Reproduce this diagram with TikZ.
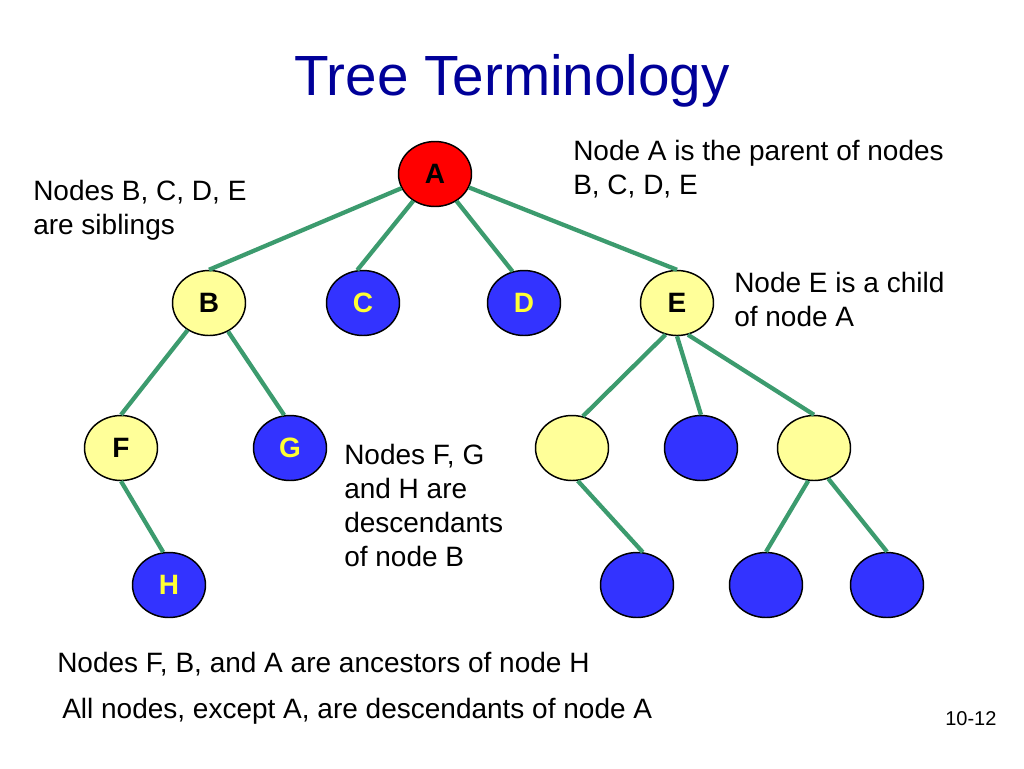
\documentclass[tikz,border=0pt]{standalone}
\usepackage{fontspec}
\setmainfont{Liberation Sans}
\usetikzlibrary{shapes.geometric}
\definecolor{edgegreen}{RGB}{60,155,110}
\definecolor{nodeyellow}{RGB}{255,255,153}
\definecolor{nodeblue}{RGB}{51,51,255}
\definecolor{labelyellow}{RGB}{255,255,51}
\definecolor{titleblue}{RGB}{0,0,153}
\newcommand\mlines[1]{\vtop{\baselineskip=25.5pt\halign{##\hfil\cr#1\crcr}}}
\tikzset{
  tnode/.style={ellipse, draw=black, line width=1.1pt, minimum width=54.75pt, minimum height=48.75pt, inner sep=0pt, font=\fontsize{21}{24}\selectfont\bfseries},
  ynode/.style={tnode, fill=nodeyellow, text=black},
  bnode/.style={tnode, fill=nodeblue, text=labelyellow},
  rnode/.style={tnode, fill=red, text=black},
  edge/.style={draw=edgegreen, line width=3.2pt},
  txt/.style={anchor=base west, inner sep=0pt, font=\fontsize{21}{25.5}\selectfont}
}
\begin{document}
\begin{tikzpicture}[x=0.75pt,y=-0.75pt]
\useasboundingbox (0,0) rectangle (1024,768);
\node[anchor=base, inner sep=0pt, text=titleblue, font=\fontsize{42.5}{48}\selectfont] (title) at (512,95) {Tree Terminology};
% nodes
\node[rnode] (A) at (435,174) {A};
\node[ynode] (B) at (209,303) {B};
\node[bnode] (C) at (363,303) {C};
\node[bnode] (D) at (524,303) {D};
\node[ynode] (E) at (677,303) {E};
\node[ynode] (F) at (121,448) {F};
\node[bnode] (G) at (290,448) {G};
\node[bnode] (H) at (169,585) {H};
\node[ynode] (E1) at (572,448) {};
\node[bnode] (E2) at (701,448) {};
\node[ynode] (E3) at (814,448) {};
\node[bnode] (E11) at (637,585) {};
\node[bnode] (E31) at (766,585) {};
\node[bnode] (E32) at (887,585) {};
% edges
\draw[edge] (A) -- (B.north);
\draw[edge] (A) -- (C.100);
\draw[edge] (A) -- (D.110);
\draw[edge] (A) -- (E.north);
\draw[edge] (B) -- (F.north);
\draw[edge] (B) -- (G.100);
\draw[edge] (F.south) -- (H.100);
\draw[edge] (E.250) -- (E1.71);
\draw[edge] (E.south) -- (E2.north);
\draw[edge] (E.-71) -- (E3.north);
\draw[edge] (E1.-80) -- (E11.80);
\draw[edge] (E3.-100) -- (E31.north);
\draw[edge] (E3.-65) -- (E32.north);
% texts
\node[txt] (t1) at (573,160) {\mlines{Node A is the parent of nodes\cr B, C, D, E}};
\node[txt] (t2) at (33,200) {\mlines{Nodes B, C, D, E\cr are siblings}};
\node[txt] (t3) at (734,292) {\mlines{Node E is a child\cr of node A}};
\node[txt] (t4) at (344,464) {\mlines{Nodes F, G\cr and H are\cr descendants\cr of node B}};
\node[txt] (t5) at (57,672) {Nodes F, B, and A are ancestors of node H};
\node[txt] (t6) at (62,718) {All nodes, except A, are descendants of node A};
\node[anchor=base west, inner sep=0pt, font=\fontsize{15}{18}\selectfont] (pg) at (945,725) {10-12};
\end{tikzpicture}
\end{document}
